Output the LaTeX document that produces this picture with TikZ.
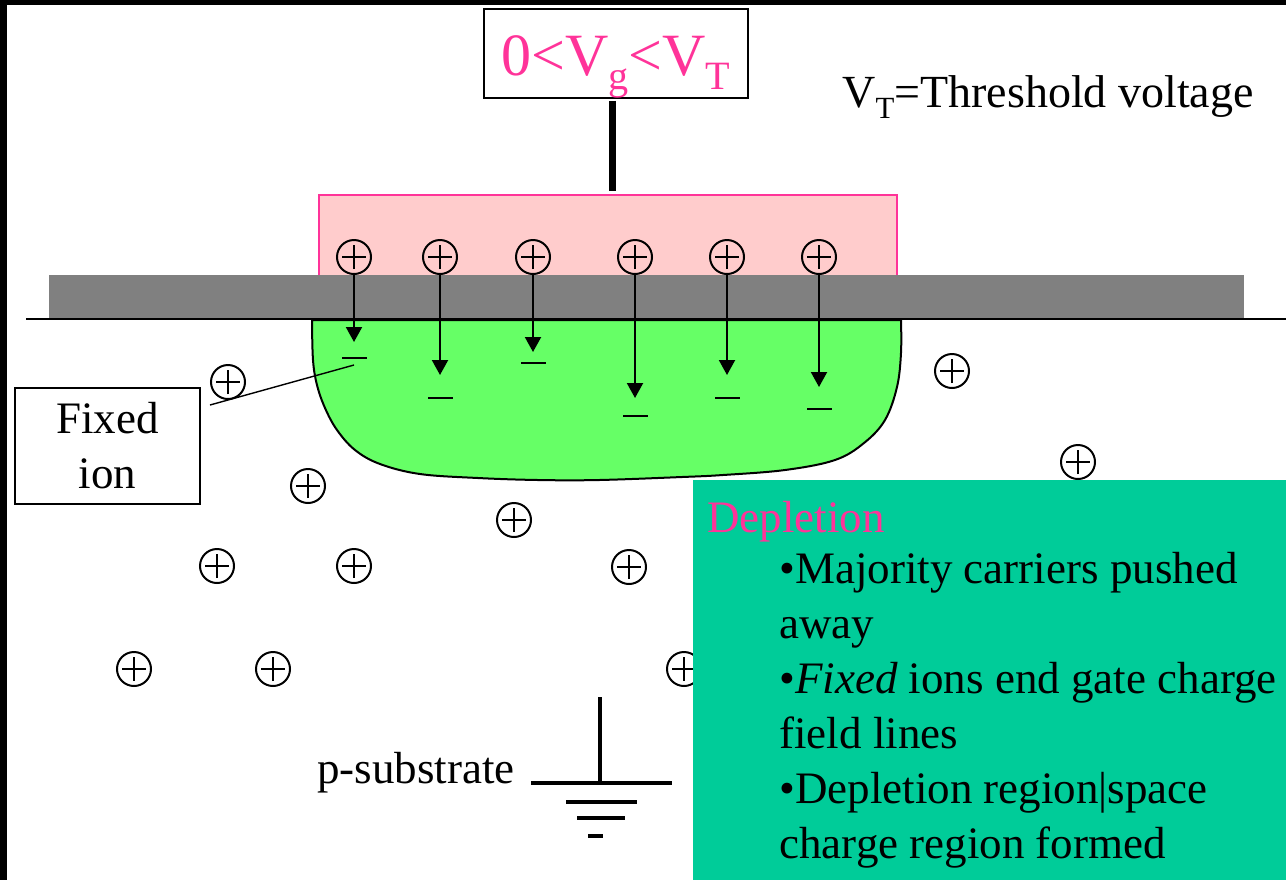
\documentclass[tikz,border=0pt]{standalone}
\usepackage{fontspec}
\setmainfont{Liberation Serif}
\usetikzlibrary{arrows.meta}
\definecolor{gatepink}{HTML}{FFCCCC}
\definecolor{hotpink}{HTML}{FF3399}
\definecolor{depgreen}{HTML}{66FF66}
\definecolor{oxgray}{HTML}{808080}
\definecolor{noteteal}{HTML}{00CC99}
\newcommand{\lowsub}[1]{\raisebox{-0.24em}{\scalebox{0.67}{#1}}}
\tikzset{
  ion/.style={circle,draw,line width=1pt,minimum size=17pt,inner sep=0pt,
    path picture={\draw[line width=1pt]
      ([xshift=-6pt]path picture bounding box.center) -- ([xshift=6pt]path picture bounding box.center)
      ([yshift=-6pt]path picture bounding box.center) -- ([yshift=6pt]path picture bounding box.center);}},
  fixion/.style={fill=black,minimum width=12.5pt,minimum height=1pt,inner sep=0pt},
  field/.style={-{Triangle[length=7.5pt,width=8pt]},line width=1pt},
  gndline/.style={line width=1.75pt},
  txt/.style={font=\fontsize{22.5}{27.5}\selectfont,inner sep=0pt}
}

\begin{document}
\begin{tikzpicture}[x=0.5pt,y=-0.5pt]
  \useasboundingbox (0,0) rectangle (1286,880);
  \fill[black] (0,0) rectangle (1286,5);
  \fill[black] (0,0) rectangle (7,880);

  \draw[fill=depgreen,line width=1pt] plot[smooth,tension=0.6] coordinates {
      (312,320)(313,360)(317,385)(325,408)(337,430)(355,450)(380,464)(420,474)
      (478,478)(538,480)(599,480)(682,477)(723,475)(785,470)(835,460)(864,443)
      (885,420)(897,387)(901,353)(901,320)} -- cycle;
  \draw[line width=1pt] (26,319) -- (1286,319);

  \node[draw=hotpink,fill=gatepink,line width=0.8pt,minimum width=289pt,minimum height=40.5pt,inner sep=0pt] (gate) at (608,235.5) {};
  \fill[oxgray] (49,275) rectangle (1244,318);

  \node[draw,line width=0.8pt,text=hotpink,font=\fontsize{30}{36}\selectfont,inner sep=0pt,
        text height=33pt,text depth=11.5pt,minimum width=132pt] (vg) at (616,53.5) {0<V\lowsub{g}<V\lowsub{T}};
  \draw[line width=3.5pt,shorten <=1pt,shorten >=1.5pt] ([xshift=-2pt]vg.south) -- ([xshift=-2pt]vg.south |- gate.north);
  \node[txt,font=\fontsize{23}{27.5}\selectfont,anchor=base west] (vt) at (842,107) {V\lowsub{T}=Threshold voltage};

  \foreach \i/\x/\ty/\my in {1/354/342/358,2/440/375/398,3/533/352/363,4/635/398/416,5/727/375/398,6/819/387/409}{
    \node[ion] (g\i) at (\x,257) {};
    \node[fixion] (m\i) at (\x,\my) {};
    \coordinate (t\i) at (\x,\ty);
    \draw[field] (g\i) -- (t\i);
  }

  \foreach \x/\y [count=\k] in {228/382,952/371,1078/462,308/486,514/520,217/566,354/566,629/567,134/669,273/669,684/669}
    \node[ion] (s\k) at (\x,\y) {};

  \node[draw,line width=0.6pt,txt,align=center,minimum width=92.5pt,minimum height=58pt] (fix) at (107.5,446) {Fixed\\ion};
  \coordinate (lead) at (210,405);
  \draw[line width=0.7pt] (lead) -- ([yshift=-3.5pt]m1.center);

  \node[txt,anchor=base west] (sub) at (317,783) {p-substrate};
  \coordinate (gnd) at (600,783);
  \draw[gndline] (gnd) -- ++(0,-86);
  \draw[gndline] (gnd) ++(-69,0) -- ++(141,0);
  \draw[gndline] (gnd) ++(-34,19) -- ++(71,0);
  \draw[gndline] (gnd) ++(-23,35) -- ++(48,0);
  \draw[gndline] (gnd) ++(-12,53) -- ++(15,0);

  \fill[noteteal] (693,480) rectangle (1286,880);
  \node[txt,anchor=base west,text=hotpink] (dhead) at (707,532) {Depletion};
  \node[txt,anchor=north west,align=left] (notes) at (779,552) {\textbullet Majority carriers pushed\\away\\
    \textbullet\textit{Fixed} ions end gate charge\\field lines\\
    \textbullet Depletion region|space\\charge region formed};
\end{tikzpicture}
\end{document}
